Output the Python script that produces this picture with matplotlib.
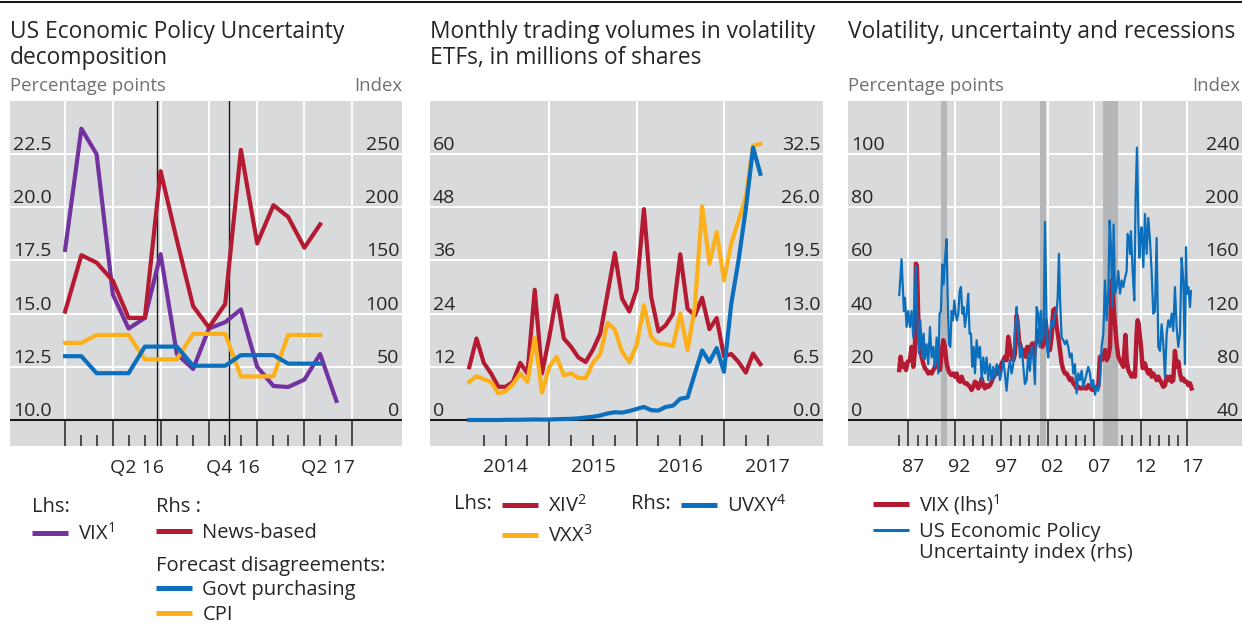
import numpy as np
import pandas as pd
import matplotlib
matplotlib.use('Agg')
import matplotlib.pyplot as plt
import matplotlib.dates as mdates
from matplotlib.lines import Line2D

plt.rcParams['font.family'] = ['Open Sans', 'DejaVu Sans']
plt.rcParams['mathtext.fontset'] = 'custom'
plt.rcParams['mathtext.rm'] = 'Open Sans'
plt.rcParams['mathtext.default'] = 'regular'

# ---------------- panel 1: EPU decomposition (monthly, month ends) ----------------
p1_dates = pd.date_range('2016-01-01', periods=18, freq='MS') - pd.Timedelta(days=1)
vix_monthly = [18.0, 23.7, 22.5, 15.9, 14.3, 14.8, 17.8, 13.1, 12.4,
               14.3, 14.6, 15.2, 12.5, 11.6, 11.55, 11.9, 13.1, 10.9]
news_based = [102, 155, 148, 131, 96, 96, 234, 169, 107,
              87, 109, 254, 166, 202, 191, 162, 184]
govt_purchasing = [60, 60, 44, 44, 44, 69, 69, 69, 51,
                   51, 51, 61, 61, 61, 53, 53, 53]
cpi = [72.5, 72.5, 80, 80, 80, 57, 57, 57, 81,
       81, 81, 41, 41, 41, 80, 80, 80]
event_dates = [pd.Timestamp('2016-06-23'), pd.Timestamp('2016-11-08')]

# ---------------- panel 2: ETF volumes (monthly) ----------------
etf_months = pd.date_range('2014-02-01', periods=41, freq='MS')
xiv = [11.9, 18.4, 12.9, 10.5, 7.5, 7.5, 8.6, 12.9, 10.5, 29.4,
       10.5, 18.75, 28.1, 18.4, 16.5, 14.1, 13.1, 15.9, 19.5, 28.5,
       37.7, 27.4, 24.5, 29.4, 47.6, 27.8, 20.0, 21.4, 24.0, 37.4,
       25.1, 23.6, 27.6, 20.5, 23.0, 14.4, 14.9, 13.1, 10.7, 15.0, 12.6]
vxx = [8.6, 9.9, 9.2, 8.6, 6.0, 6.5, 8.1, 10.5, 8.6, 18.6,
       6.2, 12.0, 14.25, 10.1, 10.5, 9.5, 9.4, 12.9, 14.9, 21.9,
       20.4, 15.4, 13.1, 16.9, 25.9, 18.75, 17.25, 17.1, 16.7, 24.0,
       15.75, 25.5, 48.2, 35.3, 42.4, 31.5, 39.9, 45.0, 50.3, 61.9, 62.3]
uvxy = [0.0, 0.0, 0.0, 0.0, 0.0, 0.02, 0.03, 0.03, 0.05, 0.07,
        0.05, 0.06, 0.1, 0.12, 0.15, 0.2, 0.3, 0.4, 0.55, 0.8,
        0.95, 0.9, 1.1, 1.35, 1.6, 1.2, 1.15, 1.6, 1.75, 2.6,
        2.75, 5.7, 8.5, 7.1, 8.8, 5.9, 14.2, 19.5, 25.8, 33.3, 30.1]

# ---------------- panel 3: VIX, EPU index and recessions ----------------
vix_year = [1986.03, 1986.18, 1986.35, 1986.57, 1986.75, 1986.93, 1987.18, 1987.36, 1987.54, 1987.72,
            1987.82, 1987.93, 1988.08, 1988.25, 1988.43, 1988.61, 1988.79, 1988.97, 1989.15, 1989.33,
            1989.51, 1989.69, 1989.87, 1990.05, 1990.23, 1990.41, 1990.58, 1990.76, 1990.94, 1991.12,
            1991.30, 1991.48, 1991.66, 1991.84, 1992.02, 1992.20, 1992.38, 1992.56, 1992.74, 1992.92,
            1993.09, 1993.27, 1993.45, 1993.63, 1993.81, 1993.99, 1994.17, 1994.35, 1994.53, 1994.71,
            1994.89, 1995.06, 1995.24, 1995.42, 1995.60, 1995.78, 1995.96, 1996.14, 1996.32, 1996.50,
            1996.68, 1996.86, 1997.04, 1997.22, 1997.39, 1997.57, 1997.75, 1997.93, 1998.11, 1998.29,
            1998.47, 1998.65, 1998.76, 1998.90, 1999.08, 1999.26, 1999.43, 1999.61, 1999.79, 1999.97,
            2000.15, 2000.33, 2000.51, 2000.69, 2000.87, 2001.05, 2001.23, 2001.41, 2001.59, 2001.77,
            2001.91, 2002.05, 2002.23, 2002.41, 2002.59, 2002.77, 2002.95, 2003.13, 2003.31, 2003.49,
            2003.67, 2003.85, 2004.03, 2004.20, 2004.38, 2004.56, 2004.74, 2004.92, 2005.10, 2005.28,
            2005.46, 2005.64, 2005.82, 2006.00, 2006.18, 2006.35, 2006.53, 2006.71, 2006.89, 2007.07,
            2007.25, 2007.43, 2007.61, 2007.79, 2007.97, 2008.15, 2008.33, 2008.51, 2008.69, 2008.87,
            2008.97, 2009.12, 2009.22, 2009.40, 2009.58, 2009.76, 2009.94, 2010.12, 2010.35, 2010.48,
            2010.66, 2010.84, 2011.01, 2011.19, 2011.37, 2011.55, 2011.66, 2011.77, 2011.91, 2012.02,
            2012.20, 2012.45, 2012.63, 2012.81, 2012.99, 2013.16, 2013.34, 2013.52, 2013.70, 2013.88,
            2014.06, 2014.24, 2014.42, 2014.60, 2014.78, 2014.96, 2015.14, 2015.32, 2015.49, 2015.67,
            2015.85, 2016.03, 2016.21, 2016.39, 2016.57, 2016.75, 2016.93, 2017.11, 2017.29, 2017.46]
vix_level = [18.8, 23.8, 20.0, 21.0, 18.8, 21.9, 22.5, 27.5, 20.0, 26.0,
             58.8, 58.0, 37.5, 28.8, 23.8, 21.3, 19.4, 18.8, 17.5, 18.0,
             17.5, 18.8, 20.0, 23.8, 20.0, 18.8, 25.0, 30.0, 27.5, 21.3,
             18.8, 17.5, 16.9, 17.5, 16.3, 17.5, 15.0, 14.4, 16.3, 14.4,
             13.8, 13.8, 13.1, 12.5, 11.3, 12.5, 14.4, 13.8, 11.9, 13.1,
             15.6, 13.1, 11.9, 13.1, 12.5, 13.1, 14.4, 16.3, 16.9, 18.8,
             17.5, 18.8, 21.3, 22.5, 23.8, 22.5, 31.3, 27.5, 23.8, 22.5,
             25.0, 39.4, 36.3, 30.0, 27.5, 25.0, 26.3, 23.8, 27.5, 25.0,
             27.5, 28.8, 23.8, 28.8, 30.0, 33.8, 31.3, 27.5, 28.8, 37.5,
             32.5, 27.5, 26.3, 31.3, 41.3, 41.9, 35.0, 31.3, 26.3, 21.3,
             18.8, 17.5, 17.5, 16.3, 15.0, 15.6, 13.8, 13.1, 11.9, 12.5,
             11.9, 11.9, 12.5, 11.9, 11.9, 13.1, 12.5, 11.5, 11.3, 11.3,
             12.5, 12.5, 23.8, 22.5, 23.8, 26.3, 22.5, 23.8, 27.5, 52.5,
             51.3, 40.0, 36.3, 28.8, 23.8, 22.5, 21.3, 20.0, 32.0, 22.5,
             18.8, 17.5, 16.3, 17.5, 16.3, 32.5, 37.5, 36.3, 31.0, 28.0,
             19.5, 21.3, 18.8, 17.5, 18.8, 16.3, 17.5, 16.3, 15.0, 16.3,
             15.0, 13.8, 12.5, 13.1, 16.3, 15.0, 16.3, 14.4, 15.0, 26.0,
             20.0, 22.0, 17.5, 15.0, 15.6, 14.4, 14.4, 13.1, 13.8, 11.9]

epu_year = [1986.03, 1986.28, 1986.53, 1986.64, 1986.82, 1987.00, 1987.18, 1987.36, 1987.54, 1987.82,
            1988.00, 1988.15, 1988.29, 1988.51, 1988.65, 1988.79, 1988.97, 1989.15, 1989.33, 1989.51,
            1989.69, 1989.87, 1990.05, 1990.23, 1990.37, 1990.51, 1990.66, 1990.80, 1990.94, 1991.12,
            1991.23, 1991.37, 1991.52, 1991.66, 1991.80, 1991.95, 1992.09, 1992.23, 1992.38, 1992.52,
            1992.66, 1992.81, 1992.95, 1993.09, 1993.27, 1993.45, 1993.59, 1993.74, 1993.88, 1994.03,
            1994.17, 1994.35, 1994.53, 1994.71, 1994.89, 1995.06, 1995.24, 1995.42, 1995.60, 1995.78,
            1995.96, 1996.14, 1996.32, 1996.50, 1996.68, 1996.86, 1997.04, 1997.22, 1997.39, 1997.57,
            1997.75, 1997.93, 1998.11, 1998.29, 1998.47, 1998.65, 1998.76, 1998.90, 1999.01, 1999.19,
            1999.37, 1999.54, 1999.72, 1999.90, 2000.08, 2000.26, 2000.44, 2000.62, 2000.80, 2000.98,
            2001.12, 2001.26, 2001.41, 2001.55, 2001.70, 2001.80, 2001.91, 2002.05, 2002.23, 2002.41,
            2002.59, 2002.77, 2002.95, 2003.06, 2003.20, 2003.31, 2003.49, 2003.67, 2003.85, 2004.03,
            2004.20, 2004.38, 2004.56, 2004.74, 2004.92, 2005.10, 2005.28, 2005.46, 2005.64, 2005.82,
            2006.00, 2006.18, 2006.35, 2006.53, 2006.71, 2006.89, 2007.07, 2007.25, 2007.43, 2007.61,
            2007.79, 2007.97, 2008.15, 2008.33, 2008.51, 2008.65, 2008.80, 2008.94, 2009.08, 2009.22,
            2009.40, 2009.58, 2009.76, 2009.94, 2010.12, 2010.30, 2010.48, 2010.58, 2010.73, 2010.84,
            2010.94, 2011.12, 2011.30, 2011.44, 2011.59, 2011.73, 2011.84, 2011.95, 2012.09, 2012.27,
            2012.45, 2012.63, 2012.81, 2012.99, 2013.16, 2013.34, 2013.52, 2013.70, 2013.88, 2014.06,
            2014.24, 2014.42, 2014.60, 2014.78, 2014.96, 2015.14, 2015.32, 2015.49, 2015.67, 2015.85,
            2016.03, 2016.21, 2016.39, 2016.57, 2016.75, 2016.86, 2016.96, 2017.11, 2017.29, 2017.39]
epu_index = [134, 161, 122, 132, 110, 122, 110, 122, 102, 156,
             109, 90, 115, 87, 105, 86, 97, 82, 110, 87,
             95, 80, 102, 75, 120, 122, 157, 142, 160, 176,
             135, 97, 95, 122, 115, 130, 120, 115, 120, 137,
             140, 120, 125, 110, 120, 135, 105, 105, 80, 95,
             75, 100, 87, 95, 70, 87, 75, 87, 70, 82,
             70, 80, 72, 82, 80, 70, 77, 85, 75, 62,
             77, 85, 75, 82, 105, 125, 112, 100, 87, 95,
             80, 67, 70, 90, 77, 95, 87, 67, 125, 120,
             95, 122, 100, 105, 189, 145, 95, 87, 105, 115,
             110, 120, 122, 132, 165, 132, 102, 100, 97, 100,
             95, 87, 90, 75, 82, 60, 75, 70, 77, 65,
             70, 75, 80, 75, 65, 70, 59, 65, 62, 70,
             95, 105, 145, 115, 137, 190, 170, 125, 187, 135,
             140, 152, 135, 145, 140, 147, 152, 180, 177, 165,
             182, 152, 130, 207, 245, 190, 162, 177, 185, 155,
             195, 165, 192, 175, 152, 120, 122, 177, 95, 92,
             112, 97, 72, 105, 115, 110, 120, 107, 140, 110,
             95, 105, 162, 145, 82, 170, 135, 140, 125, 137]
recession_start = [1990.50, 2001.17, 2007.92]
recession_end = [1991.17, 2001.83, 2009.50]

# ---------------- style ----------------
BG = '#d9dadb'
SHADE = '#b5b6b8'
PURPLE = '#7233a0'
RED = '#b41a32'
YELLOW = '#fcb01a'
BLUE = '#0b6fbd'
TXT = '#262626'
SUB = '#6f7073'
AXIS = '#1a1a1a'
TICK_FS = 14
LEG_FS = 14.5
TITLE_FS = 16.4
SUB_FS = 13.3

W, H = 1242, 628
TOP, BASE, BOTTOM = 101, 420, 446

fig = plt.figure(figsize=(W / 100, H / 100), dpi=100)
fig.add_artist(Line2D([0, 1], [1 - 1.5 / H] * 2, color='black', lw=1.3))


def make_panel(x0, x1, base_l, top_l, base_r, top_r):
    ax = fig.add_axes([x0 / W, 1 - BOTTOM / H, (x1 - x0) / W, (BOTTOM - TOP) / H])
    ax.set_facecolor(BG)
    ax.set_axisbelow(True)
    s = (top_l - base_l) / (BASE - TOP)
    ax.set_ylim(base_l - (BOTTOM - BASE) * s, top_l)
    ax2 = ax.twinx()
    s = (top_r - base_r) / (BASE - TOP)
    ax2.set_ylim(base_r - (BOTTOM - BASE) * s, top_r)
    for a in (ax, ax2):
        for sp in a.spines.values():
            sp.set_visible(False)
    ax.axhline(base_l, color=AXIS, lw=1.5, zorder=3)
    ax.grid(axis='y', color='white', lw=1.4)
    for a in (ax, ax2):
        a.tick_params(axis='y', length=0, pad=-2, labelsize=TICK_FS, labelcolor=TXT)
    ax.tick_params(axis='x', which='both', direction='in', color='#333333',
                   width=1.2, labelbottom=False)
    ax.tick_params(axis='x', which='major', length=18)
    ax.tick_params(axis='x', which='minor', length=8)
    return ax, ax2


def y_labels(ax, ax2, lt, ll, rt, rl):
    ax.set_yticks(lt, ll, ha='left', va='bottom')
    ax2.set_yticks(rt, rl, ha='right', va='bottom')


def x_labels(ax, pos, labels):
    sec = ax.secondary_xaxis('bottom')
    sec.set_xticks(pos, labels)
    sec.tick_params(length=0, pad=9, labelsize=TICK_FS, labelcolor=TXT)
    for sp in sec.spines.values():
        sp.set_visible(False)


def key(color, lw=3.6):
    return Line2D([], [], color=color, lw=lw, solid_capstyle='butt')


def legend(handles, labels, x, y, title=None, spacing=0.3):
    leg = fig.legend(handles, labels, loc='upper left', bbox_to_anchor=(x / W, 1 - y / H),
                     frameon=False, borderpad=0, borderaxespad=0, handlelength=1.8,
                     handletextpad=0.5, labelspacing=spacing, fontsize=LEG_FS,
                     title=title, title_fontsize=LEG_FS, alignment='left', labelcolor=TXT)
    if title:
        leg.get_title().set_color(TXT)
    return leg


# ================= panel 1 =================
ax, ax2 = make_panel(10, 402, 10, 25, 0, 300)
x1 = mdates.date2num(p1_dates)
q_ticks = mdates.date2num(pd.date_range('2016-01-01', '2017-07-01', freq='QS') - pd.Timedelta(days=1))
m_ticks = mdates.date2num(pd.date_range('2016-01-01', periods=19, freq='MS') - pd.Timedelta(days=1))
ax.set_xlim(x1[0] - 105, q_ticks[-1] + 95)
ax.set_xticks(q_ticks)
ax.set_xticks(m_ticks, minor=True)
ax.vlines(q_ticks, 10, 25, colors='white', lw=1.4, zorder=0.6)
for d in event_dates:
    ax.axvline(mdates.date2num(d), color=AXIS, lw=1.0, zorder=1.6)
ax.plot(x1, vix_monthly, color=PURPLE, lw=3, zorder=2)
ax2.plot(x1[:17], news_based, color=RED, lw=3)
ax2.plot(x1[:17], cpi, color=YELLOW, lw=3)
ax2.plot(x1[:17], govt_purchasing, color=BLUE, lw=3)
y_labels(ax, ax2, [10, 12.5, 15, 17.5, 20, 22.5],
         ['10.0', '12.5', '15.0', '17.5', '20.0', '22.5'],
         [0, 50, 100, 150, 200, 250], ['0', '50', '100', '150', '200', '250'])
mids = (q_ticks[:-1] + q_ticks[1:]) / 2
x_labels(ax, [mids[1], mids[3], mids[5]], ['Q2 16', 'Q4 16', 'Q2 17'])

fig.text(10 / W, 1 - 19.5 / H, 'US Economic Policy Uncertainty\ndecomposition', va='top',
         fontsize=TITLE_FS, color=TXT, linespacing=1.13)
fig.text(10 / W, 1 - 91 / H, 'Percentage points', va='baseline', fontsize=SUB_FS, color=SUB)
fig.text(402 / W, 1 - 91 / H, 'Index', ha='right', va='baseline', fontsize=SUB_FS, color=SUB)

legend([key(PURPLE)], ['VIX$^1$'], 32, 497, title='Lhs:')
legend([key(RED)], ['News-based'], 156, 497, title='Rhs :')
legend([key(BLUE), key(YELLOW)], ['Govt purchasing', 'CPI'], 156, 556,
       title='Forecast disagreements:', spacing=0.22)

# ================= panel 2 =================
ax, ax2 = make_panel(430, 823, 0, 72, 0, 39)
x2 = etf_months.year + (etf_months.month - 1) / 12
ax.set_xlim(2013.634, 2018.134)
ax.set_xticks([2015, 2016, 2017])
ax.set_xticks(np.arange(2014.25, 2017.51, 0.25), minor=True)
ax.vlines([2015, 2016, 2017], 0, 72, colors='white', lw=1.4, zorder=0.6)
ax.plot(x2, xiv, color=RED, lw=3, zorder=2)
ax.plot(x2, vxx, color=YELLOW, lw=3, zorder=2.1)
ax2.plot(x2, uvxy, color=BLUE, lw=3)
y_labels(ax, ax2, [0, 12, 24, 36, 48, 60], ['0', '12', '24', '36', '48', '60'],
         [0, 6.5, 13, 19.5, 26, 32.5], ['0.0', '6.5', '13.0', '19.5', '26.0', '32.5'])
x_labels(ax, [2014.5, 2015.5, 2016.5, 2017.5], ['2014', '2015', '2016', '2017'])

fig.text(430 / W, 1 - 19.5 / H, 'Monthly trading volumes in volatility\nETFs, in millions of shares',
         va='top', fontsize=TITLE_FS, color=TXT, linespacing=1.13)
fig.text(454 / W, 1 - 504 / H, 'Lhs:', va='center', fontsize=LEG_FS, color=TXT)
legend([key(RED), key(YELLOW)], ['XIV$^2$', 'VXX$^3$'], 502, 495, spacing=0.42)
fig.text(631 / W, 1 - 504 / H, 'Rhs:', va='center', fontsize=LEG_FS, color=TXT)
legend([key(BLUE)], ['UVXY$^4$'], 681, 495)

# ================= panel 3 =================
ax, ax2 = make_panel(848, 1242, 0, 120, 40, 280)
ax.set_xlim(1980.52, 2022.88)
ax.set_xticks(np.arange(1987, 2018, 5))
ax.set_xticks(np.arange(1986, 2018, 1), minor=True)
ax.vlines(np.arange(1987, 2018, 5), 0, 120, colors='white', lw=1.4, zorder=0.6)
for a, b in zip(recession_start, recession_end):
    ax.axvspan(a, b, color=SHADE, lw=0, zorder=0.7)
ax.plot(vix_year, vix_level, color=RED, lw=3.2, zorder=2)
ax2.plot(epu_year, epu_index, color=BLUE, lw=1.6)
y_labels(ax, ax2, [0, 20, 40, 60, 80, 100], ['0', '20', '40', '60', '80', '100'],
         [40, 80, 120, 160, 200, 240], ['40', '80', '120', '160', '200', '240'])
x_labels(ax, np.arange(1987.5, 2018, 5), ['87', '92', '97', '02', '07', '12', '17'])

fig.text(848 / W, 1 - 19.5 / H, 'Volatility, uncertainty and recessions', va='top',
         fontsize=TITLE_FS, color=TXT)
fig.text(848 / W, 1 - 91 / H, 'Percentage points', va='baseline', fontsize=SUB_FS, color=SUB)
fig.text(1240 / W, 1 - 91 / H, 'Index', ha='right', va='baseline', fontsize=SUB_FS, color=SUB)
legend([key(RED)], ['VIX (lhs)$^1$'], 873, 492)
legend([key(BLUE, 2.2), key('none')],
       ['US Economic Policy', 'Uncertainty index (rhs)'], 873, 522, spacing=0.05)

fig.savefig('out.png', dpi=100, facecolor='white')
